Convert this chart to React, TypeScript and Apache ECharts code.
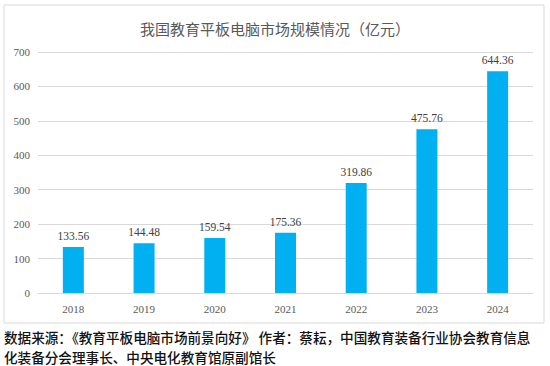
import React, { useEffect, useRef } from "react";
import * as echarts from "echarts";

const TITLE = "我国教育平板电脑市场规模情况（亿元）";
const YEARS = ["2018", "2019", "2020", "2021", "2022", "2023", "2024"];
const VALUES = [133.56, 144.48, 159.54, 175.36, 319.86, 475.76, 644.36];
const FOOTER_LINES = [
  "数据来源：《教育平板电脑市场前景向好》 作者：蔡耘，中国教育装备行业协会教育信息",
  "化装备分会理事长、中央电化教育馆原副馆长",
];

const SERIF = "'Liberation Serif', 'Times New Roman', serif";
const CJK = "'Noto Sans CJK SC', sans-serif";

export default function App() {
  const ref = useRef<HTMLDivElement>(null);
  useEffect(() => {
    if (!ref.current) return;
    const chart = echarts.init(ref.current, null, { renderer: "svg" });
    chart.setOption({
      animation: false,
      backgroundColor: "#ffffff",
      title: {
        text: TITLE,
        left: "center",
        top: 16,
        textStyle: { fontFamily: CJK, fontSize: 15, fontWeight: "normal", color: "#595959" },
      },
      grid: { left: 38, right: 17, top: 52, bottom: 73, containLabel: false },
      xAxis: {
        type: "category",
        data: YEARS,
        axisLine: { show: true, lineStyle: { color: "#d9d9d9" } },
        axisTick: { show: false },
        axisLabel: { fontFamily: SERIF, fontSize: 11, color: "#595959", margin: 10 },
      },
      yAxis: {
        type: "value",
        min: 0,
        max: 700,
        interval: 100,
        axisLine: { show: false },
        axisTick: { show: false },
        axisLabel: { fontFamily: SERIF, fontSize: 11, color: "#595959", margin: 8 },
        splitLine: { lineStyle: { color: "#d9d9d9", width: 1 } },
      },
      series: [
        {
          type: "bar",
          data: VALUES,
          barWidth: 21,
          itemStyle: { color: "#00B0F0" },
          label: {
            show: true,
            position: "top",
            distance: 5,
            fontFamily: SERIF,
            fontSize: 11.5,
            color: "#404040",
            formatter: (p: any) => Number(p.value).toFixed(2),
          },
        },
      ],
      graphic: [
        {
          type: "rect",
          shape: { x: 4, y: 5, width: 540, height: 318 },
          style: { fill: "none", stroke: "#d9d9d9", lineWidth: 1 },
          silent: true,
        },
        {
          type: "text",
          x: 4,
          y: 337,
          style: {
            text: FOOTER_LINES[0],
            fontFamily: CJK,
            fontSize: 13.6,
            fontWeight: 500,
            fill: "#111111",
            verticalAlign: "middle",
          },
        },
        {
          type: "text",
          x: 4,
          y: 357,
          style: {
            text: FOOTER_LINES[1],
            fontFamily: CJK,
            fontSize: 13.6,
            fontWeight: 500,
            fill: "#111111",
            verticalAlign: "middle",
          },
        },
      ],
    });
    return () => chart.dispose();
  }, []);
  return (
    <div
      ref={ref}
      style={{ position: "fixed", left: 0, top: 0, width: 550, height: 366 }}
    />
  );
}
